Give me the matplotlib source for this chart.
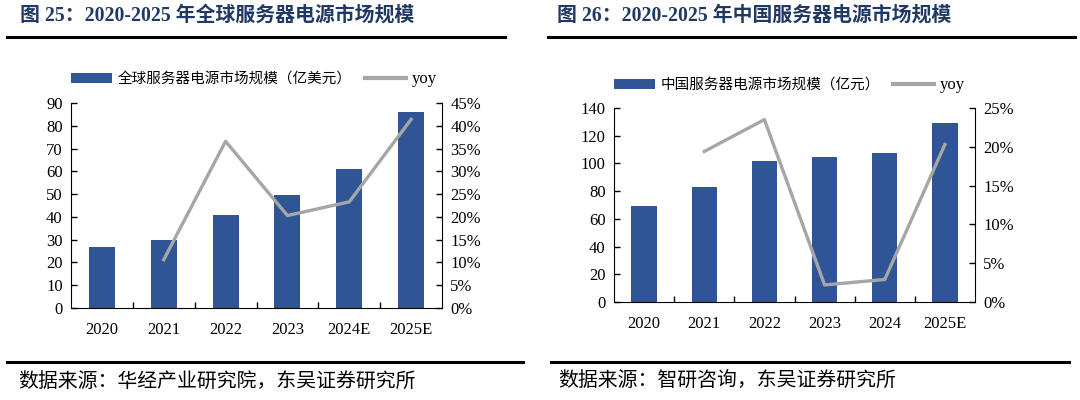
import numpy as np
import matplotlib.pyplot as plt
from matplotlib.patches import Patch
from matplotlib.lines import Line2D

# ============================================================
# Data
# ============================================================
years_global = ['2020', '2021', '2022', '2023', '2024E', '2025E']
size_global = [27, 30, 41, 49.5, 61, 86]          # 亿美元
yoy_global = [None, 10.6, 36.6, 20.3, 23.3, 41.4]  # %

years_china = ['2020', '2021', '2022', '2023', '2024', '2025E']
size_china = [69, 83, 102, 104.5, 107.4, 129.5]    # 亿元
yoy_china = [None, 19.4, 23.5, 2.2, 2.9, 20.3]     # %

BAR_COLOR = '#2F5597'
LINE_COLOR = '#A6A6A6'
TITLE_COLOR = '#1F3864'
SERIF = ['Liberation Serif', 'Noto Sans CJK SC']
CJK = ['Noto Sans CJK SC', 'DejaVu Sans']

W, H = 1080, 400
fig = plt.figure(figsize=(W / 100, H / 100), dpi=100)


def px_axes(x0, y0, x1, y1):
    """Axes from pixel box (top-left origin)."""
    return fig.add_axes([x0 / W, 1 - y1 / H, (x1 - x0) / W, (y1 - y0) / H])


def hline(x0, x1, y, lw=2.2):
    fig.add_artist(Line2D([x0 / W, x1 / W], [1 - y / H, 1 - y / H],
                          color='black', linewidth=lw))


def panel(box, years, sizes, yoy, ymax, ystep, rmax, rstep, bar_label, leg_y):
    ax = px_axes(*box)
    x = np.arange(len(years))
    ax.bar(x, sizes, width=0.42, color=BAR_COLOR, zorder=2)
    ax.set_xlim(-0.5, len(years) - 0.5)
    ax.set_ylim(0, ymax)
    ax.set_yticks(np.arange(0, ymax + 1, ystep))
    ax.set_xticks(x)
    ax.set_xticklabels(years)
    ax.set_xticks(np.arange(0.5, len(years) - 0.5, 1), minor=True)
    ax.tick_params(axis='x', which='major', length=0, pad=10)
    ax.tick_params(axis='x', which='minor', direction='in', length=4, width=1)
    ax.tick_params(axis='y', direction='in', length=4, width=1, pad=6)
    for lab in ax.get_xticklabels() + ax.get_yticklabels():
        lab.set_fontfamily(SERIF)
        lab.set_fontsize(12)
    for s in ['top', 'right']:
        ax.spines[s].set_visible(False)

    ax2 = ax.twinx()
    xs = [i for i, v in enumerate(yoy) if v is not None]
    vs = [v for v in yoy if v is not None]
    ax2.plot(xs, vs, color=LINE_COLOR, linewidth=2.4, zorder=3)
    ax2.set_ylim(0, rmax)
    ax2.set_yticks(np.arange(0, rmax + 0.1, rstep))
    ax2.set_yticklabels([f'{int(t)}%' for t in np.arange(0, rmax + 0.1, rstep)])
    ax2.tick_params(axis='y', direction='in', length=4, width=1, pad=6)
    for lab in ax2.get_yticklabels():
        lab.set_fontfamily(SERIF)
        lab.set_fontsize(12)
    for s in ['top', 'left', 'bottom']:
        ax2.spines[s].set_visible(False)

    handles = [Patch(facecolor=BAR_COLOR, edgecolor='none'),
               Line2D([], [], color=LINE_COLOR, linewidth=3)]
    leg = ax.legend(handles, [bar_label, 'yoy'], ncol=2, frameon=False,
                    loc='center left', bbox_to_anchor=(0, leg_y),
                    borderpad=0, borderaxespad=0, handlelength=2.8,
                    handleheight=0.65, handletextpad=0.4, columnspacing=0.9,
                    prop={'family': CJK, 'size': 10.5})
    leg.get_texts()[1].set_fontfamily(SERIF)
    leg.get_texts()[1].set_fontsize(12)
    return ax


panel((71, 103, 442, 308), years_global, size_global, yoy_global,
      90, 10, 45, 5, '全球服务器电源市场规模（亿美元）', 1.117)
panel((614, 108, 975, 302), years_china, size_china, yoy_china,
      140, 20, 25, 5, '中国服务器电源市场规模（亿元）', 1.119)

# titles
fig.text(20 / W, 1 - 16 / H, '图 25：2020-2025 年全球服务器电源市场规模',
         family=SERIF, fontsize=14.3, fontweight='bold', color=TITLE_COLOR,
         va='center', ha='left')
fig.text(557 / W, 1 - 16 / H, '图 26：2020-2025 年中国服务器电源市场规模',
         family=SERIF, fontsize=14.3, fontweight='bold', color=TITLE_COLOR,
         va='center', ha='left')

# rules
hline(7, 505, 37)
hline(548, 1075, 37)
hline(7, 523, 362)
hline(551, 1069, 362)

# sources
fig.text(18 / W, 1 - 381 / H, '数据来源：华经产业研究院，东吴证券研究所',
         family=CJK, fontsize=14.3, va='center', ha='left')
fig.text(558 / W, 1 - 381 / H, '数据来源：智研咨询，东吴证券研究所',
         family=CJK, fontsize=14.3, va='center', ha='left')

fig.savefig('out.png', dpi=100)
